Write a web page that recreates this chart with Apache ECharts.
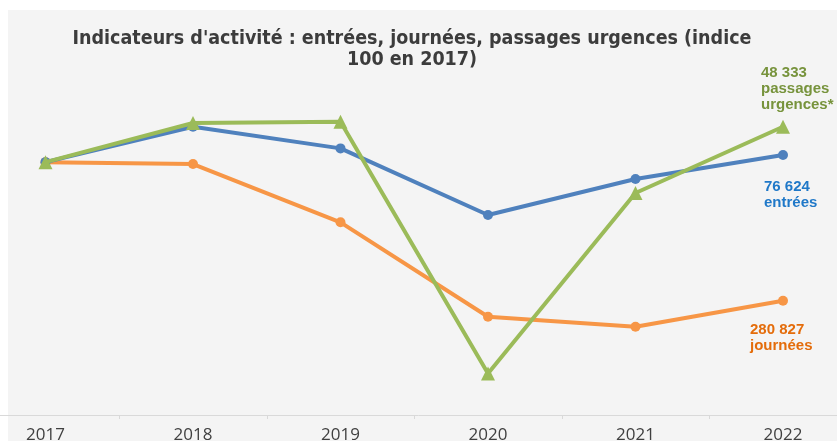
<!DOCTYPE html>
<html>
<head>
<meta charset="utf-8">
<script src="https://cdn.jsdelivr.net/npm/echarts@6/dist/echarts.min.js"></script>
<style>
html,body{margin:0;padding:0;background:#ffffff;}
#chart{width:837px;height:441px;}
</style>
</head>
<body>
<div id="chart"></div>
<script>
const years = ['2017', '2018', '2019', '2020', '2021', '2022'];
const entrees = [100, 103.5, 101.36, 94.77, 98.33, 100.7];
const journees = [100, 99.81, 94.05, 84.71, 83.73, 86.3];
const urgences = [100, 103.87, 104.0, 79.1, 96.95, 103.5];
const titleText = "Indicateurs d'activité : entrées, journées, passages urgences (indice\n100 en 2017)";
const endLabelEntrees = ['76 624', 'entrées'];
const endLabelJournees = ['280 827', 'journées'];
const endLabelUrgences = ['48 333', 'passages', 'urgences*'];

function withEndLabel(values, lines, color, offset) {
  return values.map(function (v, i) {
    if (i !== values.length - 1) return v;
    return {
      value: v,
      label: {
        show: true,
        position: 'inside',
        align: 'left',
        verticalAlign: 'middle',
        offset: offset,
        formatter: lines.join('\n'),
        color: color,
        fontFamily: 'Liberation Sans, Arial, sans-serif',
        fontWeight: 'bold',
        fontSize: 15,
        lineHeight: 16
      }
    };
  });
}

const chart = echarts.init(document.getElementById('chart'), null, {renderer: 'canvas'});
chart.setOption({
  animation: false,
  backgroundColor: '#ffffff',
  graphic: [
    {type: 'rect', z: -10, silent: true, shape: {x: 8, y: 10, width: 829, height: 431}, style: {fill: '#f4f4f4'}}
  ],
  title: {
    text: titleText,
    left: 407,
    top: 23,
    textAlign: 'center',
    textStyle: {
      fontFamily: 'DejaVu Sans Condensed, DejaVu Sans, sans-serif',
      fontWeight: 'bold',
      fontSize: 19.5,
      lineHeight: 21,
      color: '#3c3c3c'
    }
  },
  grid: {left: -28.25, right: -19.75, top: 61, bottom: 26, containLabel: false, outerBoundsMode: 'none'},
  xAxis: {
    type: 'category',
    data: years,
    boundaryGap: true,
    axisLine: {show: true, lineStyle: {color: '#d9d9d9', width: 1}},
    axisTick: {show: true, length: 4, lineStyle: {color: '#d9d9d9'}},
    axisLabel: {
      margin: 12,
      color: '#404040',
      fontSize: 17,
      fontFamily: 'Open Sans, DejaVu Sans, sans-serif'
    },
    splitLine: {show: false}
  },
  yAxis: {
    type: 'value',
    min: 75,
    max: 110,
    show: false
  },
  series: [
    {
      name: 'journées',
      type: 'line',
      data: withEndLabel(journees, endLabelJournees, '#e46c0a', [-33, 37]),
      symbol: 'circle',
      symbolSize: 10,
      lineStyle: {color: '#f79646', width: 4},
      itemStyle: {color: '#f79646'},
      z: 2
    },
    {
      name: 'entrées',
      type: 'line',
      data: withEndLabel(entrees, endLabelEntrees, '#1f78c8', [-19, 40]),
      symbol: 'circle',
      symbolSize: 10,
      lineStyle: {color: '#4f81bd', width: 4},
      itemStyle: {color: '#4f81bd'},
      z: 3
    },
    {
      name: 'passages urgences',
      type: 'line',
      data: withEndLabel(urgences, endLabelUrgences, '#77933c', [-22, -38]),
      symbol: 'triangle',
      symbolSize: 14,
      lineStyle: {color: '#9bbb59', width: 4},
      itemStyle: {color: '#9bbb59'},
      z: 4
    }
  ]
});
</script>
</body>
</html>
